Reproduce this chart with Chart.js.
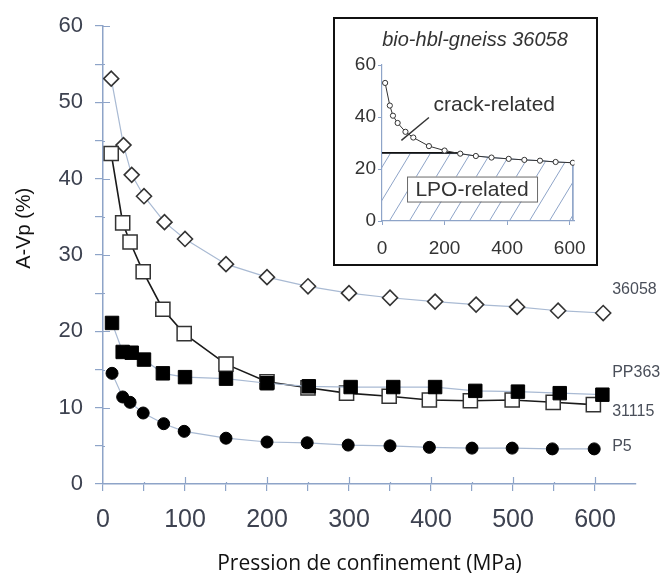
<!DOCTYPE html>
<html><head><meta charset="utf-8">
<script src="https://cdn.jsdelivr.net/npm/chart.js@4"></script>
<style>
html,body{margin:0;padding:0;background:#fff;}
#wrap{position:relative;width:663px;height:574px;overflow:hidden;background:#fff;}
#main{position:absolute;left:0;top:0;}
#inset{position:absolute;left:333px;top:17px;background:#fff;}
#insetBox{position:absolute;left:333px;top:17px;width:265px;height:249px;border:2px solid #111;box-sizing:border-box;pointer-events:none;}
</style></head><body>
<div id="wrap">
<canvas id="main" width="663" height="574"></canvas>
<canvas id="inset" width="265" height="249"></canvas>
<div id="insetBox"></div>
</div>
<script>
// ---------- data ----------
const seriesNames = ['36058', 'PP363', '31115', 'P5'];

const pressure36058 = [10, 25, 35, 50, 75, 100, 150, 200, 250, 300, 350, 405, 455, 505, 555, 610];
const avp36058      = [53.1, 44.4, 40.5, 37.7, 34.3, 32.1, 28.8, 27.1, 25.9, 25.0, 24.4, 23.9, 23.5, 23.2, 22.7, 22.4];

const pressure31115 = [10, 24, 33, 49, 73, 99, 150, 200, 250, 297, 349, 398, 448, 499, 549, 598];
const avp31115      = [43.3, 34.2, 31.7, 27.8, 22.9, 19.7, 15.7, 13.4, 12.6, 11.9, 11.5, 11.0, 10.9, 11.0, 10.7, 10.4];

const pressurePP363 = [11, 24, 35, 50, 73, 100, 150, 200, 251, 302, 354, 405, 454, 506, 557, 609];
const avpPP363      = [21.1, 17.3, 17.2, 16.3, 14.5, 14.0, 13.8, 13.2, 12.8, 12.7, 12.7, 12.7, 12.2, 12.1, 11.9, 11.7];

const pressureP5 = [11, 24, 33, 49, 74, 99, 150, 200, 249, 299, 350, 398, 450, 499, 548, 599];
const avpP5      = [14.5, 11.4, 10.7, 9.3, 7.9, 6.9, 6.0, 5.5, 5.4, 5.1, 5.0, 4.8, 4.7, 4.7, 4.6, 4.6];

const xTicksMain = [0, 100, 200, 300, 400, 500, 600];
const yTicksMain = [0, 10, 20, 30, 40, 50, 60];

// inset
const insetTitle = 'bio-hbl-gneiss 36058';
const lpoLineX = [0, 250];
const lpoLineY = [26.2, 26.2];
const lpoBoundaryX = [0, 250, 300, 350, 405, 455, 505, 555, 610, 610];
const lpoBoundaryY = [26.2, 25.9, 25.0, 24.4, 23.9, 23.5, 23.2, 22.7, 22.4, 0];
const crackPointerX = [150, 62];
const crackPointerY = [39.8, 31.0];
const xTicksInset = [0, 200, 400, 600];
const yTicksInset = [0, 20, 40, 60];

// ---------- helpers ----------
const pts = (xs, ys) => xs.map((x, i) => ({x: x, y: ys[i]}));
const AXIS = '#8ea4c8';
const LIGHT = '#a9bad3';
const SANS = '"Liberation Sans", Arial, sans-serif';

// ---------- main chart ----------
const seriesLabelOffsets = {'36058': -23, 'PP363': -22, '31115': 7, 'P5': -2};

const mainPlugin = {
  id: 'mainText',
  beforeDatasetsDraw(chart) {
    // inner halves of the tick marks (ticks cross the axes in the original)
    const ctx = chart.ctx, xs = chart.scales.x, ys = chart.scales.y, a = chart.chartArea;
    ctx.save();
    ctx.strokeStyle = AXIS;
    ctx.lineWidth = 1.2;
    ctx.beginPath();
    xs.ticks.forEach(t => {
      if (t.value > 600 || t.value === 0) return;
      const px = Math.round(xs.getPixelForValue(t.value)) + 0.5;
      const len = xTicksMain.includes(t.value) ? 7 : 2;
      ctx.moveTo(px, a.bottom); ctx.lineTo(px, a.bottom - len);
    });
    ys.ticks.forEach(t => {
      if (t.value === 0) return;
      const py = Math.round(ys.getPixelForValue(t.value)) + 0.5;
      const len = yTicksMain.includes(t.value) ? 7 : 2;
      ctx.moveTo(a.left, py); ctx.lineTo(a.left + len, py);
    });
    ctx.stroke();
    ctx.restore();
  },
  afterDraw(chart) {
    const ctx = chart.ctx, xs = chart.scales.x, ys = chart.scales.y;
    ctx.save();
    ctx.fillStyle = '#111';
    ctx.font = '20px ' + SANS;
    ctx.textAlign = 'center';
    ctx.textBaseline = 'middle';
    ctx.translate(24, ys.getPixelForValue(33.5));
    ctx.rotate(-Math.PI / 2);
    ctx.fillText('A-Vp (%)', 0, 0);
    ctx.restore();
    ctx.save();
    ctx.fillStyle = '#4a4f5a';
    ctx.font = '16px ' + SANS;
    ctx.textAlign = 'left';
    ctx.textBaseline = 'middle';
    chart.data.datasets.forEach(ds => {
      const last = ds.data[ds.data.length - 1];
      const py = ys.getPixelForValue(last.y) + seriesLabelOffsets[ds.label];
      ctx.fillText(ds.label, xs.getPixelForValue(610) + 9, py);
    });
    ctx.restore();
  }
};

new Chart(document.getElementById('main'), {
  type: 'line',
  data: {
    datasets: [
      { label: 'PP363', data: pts(pressurePP363, avpPP363),
        borderColor: LIGHT, borderWidth: 1.2,
        pointStyle: 'rect', pointRadius: 9.5, pointBackgroundColor: '#000', pointBorderColor: '#000', pointBorderWidth: 1 },
      { label: '31115', data: pts(pressure31115, avp31115),
        borderColor: '#1a1a1a', borderWidth: 1.6,
        pointStyle: 'rect', pointRadius: 10, pointBackgroundColor: '#fff', pointBorderColor: '#333', pointBorderWidth: 1.5 },
      { label: '36058', data: pts(pressure36058, avp36058),
        borderColor: LIGHT, borderWidth: 1.2,
        pointStyle: 'rectRot', pointRadius: 7.5, pointBackgroundColor: '#fff', pointBorderColor: '#333', pointBorderWidth: 1.6 },
      { label: 'P5', data: pts(pressureP5, avpP5),
        borderColor: LIGHT, borderWidth: 1.2,
        pointStyle: 'circle', pointRadius: 6, pointBackgroundColor: '#000', pointBorderColor: '#000', pointBorderWidth: 1 }
    ]
  },
  options: {
    responsive: false, animation: false,
    layout: {padding: {top: 26, right: 27, left: 0, bottom: 0}},
    plugins: {legend: {display: false}, tooltip: {enabled: false}},
    elements: {line: {tension: 0}},
    scales: {
      x: {
        type: 'linear', min: 0, max: 650,
        afterFit(s) { s.height = 90; },
        border: {color: AXIS, width: 1.5},
        grid: {drawOnChartArea: false, tickLength: 7, lineWidth: 1.2,
               color: c => (c.tick && c.tick.value > 600) ? 'rgba(0,0,0,0)' : AXIS},
        ticks: {stepSize: 50, autoSkip: false, maxRotation: 0, padding: 14, color: '#3d4250',
                font: {family: SANS, size: 25},
                callback: v => xTicksMain.includes(v) ? String(v) : ''},
        title: {display: true, text: 'Pression de confinement (MPa)', color: '#111',
                font: {family: '"Open Sans", "Noto Sans", sans-serif', size: 21}, padding: {top: 0, bottom: -3}}
      },
      y: {
        min: 0, max: 60,
        afterFit(s) { s.width = 103; },
        border: {color: AXIS, width: 1.5},
        grid: {drawOnChartArea: false, tickLength: 8, lineWidth: 1.2, color: AXIS},
        ticks: {stepSize: 5, autoSkip: false, padding: 12, color: '#3d4250',
                font: {family: SANS, size: 22},
                callback: v => yTicksMain.includes(v) ? String(v) : ''}
      }
    }
  },
  plugins: [mainPlugin]
});

// ---------- inset chart ----------
function hatchPattern() {
  const c = document.createElement('canvas');
  c.width = 20; c.height = 33;
  const g = c.getContext('2d');
  g.strokeStyle = '#8ea4c8';
  g.lineWidth = 1;
  for (const dx of [-20, 0, 20]) {
    g.beginPath();
    g.moveTo(dx, 33);
    g.lineTo(dx + 20, 0);
    g.stroke();
  }
  return g.createPattern(c, 'repeat');
}

const insetPlugin = {
  id: 'insetText',
  afterDatasetsDraw(chart) {
    const ctx = chart.ctx, xs = chart.scales.x, ys = chart.scales.y;
    ctx.save();
    ctx.fillStyle = '#333';
    ctx.textBaseline = 'middle';
    ctx.textAlign = 'center';
    ctx.font = 'italic 20px ' + SANS;
    ctx.fillText(insetTitle, 142, 23);
    ctx.textAlign = 'left';
    ctx.font = '21px ' + SANS;
    ctx.fillText('crack-related', xs.getPixelForValue(165), ys.getPixelForValue(44.5));
    const bx = xs.getPixelForValue(80), by = ys.getPixelForValue(17.1);
    const bw = 130, bh = 25;
    ctx.fillStyle = '#fff';
    ctx.fillRect(bx, by, bw, bh);
    ctx.strokeStyle = '#6a6a6a';
    ctx.lineWidth = 1;
    ctx.strokeRect(bx + 0.5, by + 0.5, bw, bh);
    ctx.fillStyle = '#333';
    ctx.textAlign = 'center';
    ctx.font = '21px ' + SANS;
    ctx.fillText('LPO-related', bx + bw / 2, by + bh / 2 + 1);
    ctx.restore();
  }
};

new Chart(document.getElementById('inset'), {
  type: 'line',
  data: {
    datasets: [
      { label: 'curve', data: pts(pressure36058, avp36058),
        borderColor: '#333', borderWidth: 1,
        pointStyle: 'circle', pointRadius: 2.6, pointBackgroundColor: '#fff', pointBorderColor: '#333', pointBorderWidth: 1 },
      { label: 'lpoLine', data: pts(lpoLineX, lpoLineY),
        borderColor: '#111', borderWidth: 1.8, pointRadius: 0 },
      { label: 'pointer', data: pts(crackPointerX, crackPointerY),
        borderColor: '#333', borderWidth: 1.4, pointRadius: 0 },
      { label: 'lpoArea', data: pts(lpoBoundaryX, lpoBoundaryY),
        borderColor: AXIS, borderWidth: 1, pointRadius: 0,
        fill: 'origin', backgroundColor: hatchPattern() }
    ]
  },
  options: {
    responsive: false, animation: false,
    layout: {padding: {top: 48, right: 18, left: 0, bottom: 0}},
    plugins: {legend: {display: false}, tooltip: {enabled: false}},
    elements: {line: {tension: 0}},
    scales: {
      x: {
        type: 'linear', min: 0, max: 615,
        afterFit(s) { s.height = 45; },
        afterBuildTicks(s) { s.ticks = xTicksInset.map(v => ({value: v})); },
        border: {color: AXIS, width: 1.2},
        grid: {drawOnChartArea: false, tickLength: 4, color: AXIS},
        ticks: {autoSkip: false, maxRotation: 0, padding: 12, color: '#333',
                font: {family: SANS, size: 19}}
      },
      y: {
        min: 0, max: 60,
        afterFit(s) { s.width = 49; },
        afterBuildTicks(s) { s.ticks = yTicksInset.map(v => ({value: v})); },
        border: {color: AXIS, width: 1.2},
        grid: {drawOnChartArea: false, tickLength: 4, color: AXIS},
        ticks: {autoSkip: false, padding: 2, color: '#333',
                font: {family: SANS, size: 19}}
      }
    }
  },
  plugins: [insetPlugin]
});
</script>
</body></html>
